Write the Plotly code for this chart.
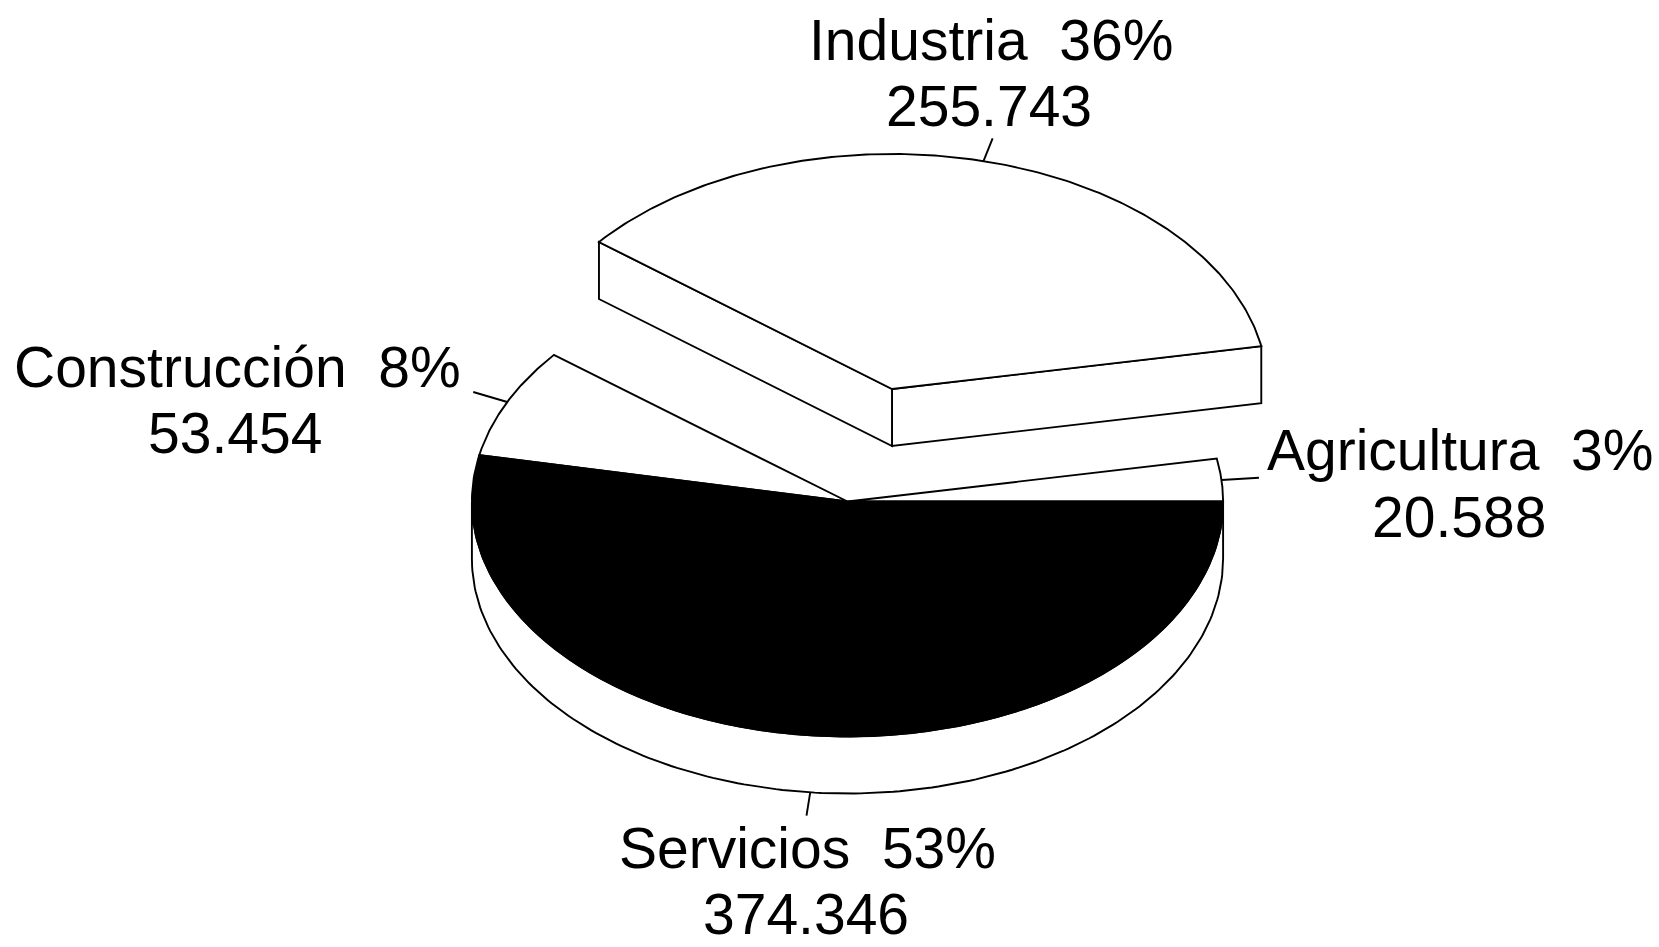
import numpy as np
import plotly.graph_objects as go

# --- data ---
categories = ["Agricultura", "Industria", "Construcción", "Servicios"]
values = [20588, 255743, 53454, 374346]
percent_labels = ["3%", "36%", "8%", "53%"]
value_labels = ["20.588", "255.743", "53.454", "374.346"]

# --- projection of the tilted pie ---
CX, CY = 847.5, 501.5
RX, RY = 375.6, 235.0
DEPTH = 57.0
EXPLODE = {"Industria": (44.5, -112.5)}
TOP_FILL = {"Agricultura": "white", "Industria": "white", "Construcción": "white", "Servicios": "black"}
LINE = dict(color="black", width=1.9)
FONT = dict(family="Liberation Sans", size=57, color="black")
LABEL_POS = {
    "Agricultura": (1460, 450, 1459, 517),
    "Industria": (991, 40, 989, 106),
    "Construcción": (237, 367, 235, 433),
    "Servicios": (807, 848, 806, 914),
}

total = sum(values)
edges = np.concatenate([[0.0], np.cumsum(values) / total * 360.0])


def rim(t_deg, cx, cy, factor=1.0):
    t = np.radians(t_deg)
    return cx + factor * RX * np.cos(t), cy - factor * RY * np.sin(t)


def poly(fig, xs, ys, fill="white"):
    fig.add_trace(go.Scatter(
        x=list(xs), y=list(ys), mode="lines", fill="toself", fillcolor=fill,
        line=LINE, hoverinfo="skip", showlegend=False))


fig = go.Figure()

# outer wall of the un-exploded part
ts = np.linspace(180, 360, 181)
wx, wy = rim(ts, CX, CY)
poly(fig, np.r_[wx, wx[::-1], wx[0]], np.r_[wy, wy[::-1] + DEPTH, wy[0]])

# exploded slice walls, then every top face
for i, name in enumerate(categories):
    dx, dy = EXPLODE.get(name, (0.0, 0.0))
    cx, cy = CX + dx, CY + dy
    if name in EXPLODE:
        for t in (edges[i], edges[i + 1]):
            px, py = rim(t, cx, cy)
            poly(fig, [cx, px, px, cx, cx], [cy, py, py + DEPTH, cy + DEPTH, cy])

for i, name in enumerate(categories):
    dx, dy = EXPLODE.get(name, (0.0, 0.0))
    cx, cy = CX + dx, CY + dy
    ts = np.linspace(edges[i], edges[i + 1], 200)
    ax, ay = rim(ts, cx, cy)
    poly(fig, np.r_[cx, ax, cx], np.r_[cy, ay, cy], TOP_FILL[name])

# leader lines at each slice's middle angle
for i, name in enumerate(categories):
    dx, dy = EXPLODE.get(name, (0.0, 0.0))
    mid = (edges[i] + edges[i + 1]) / 2
    wall = DEPTH if 180 < mid < 360 else 0.0
    x0, y0 = rim(mid, CX + dx, CY + dy + wall)
    x1, y1 = rim(mid, CX + dx, CY + dy + wall, 1.10)
    fig.add_trace(go.Scatter(x=[x0, x1], y=[y0, y1], mode="lines", line=LINE,
                             hoverinfo="skip", showlegend=False))

# labels
for name, pct, val in zip(categories, percent_labels, value_labels):
    x1, y1, x2, y2 = LABEL_POS[name]
    fig.add_annotation(x=x1, y=y1, text=f"{name}\u00a0\u00a0{pct}", showarrow=False,
                       xanchor="center", yanchor="middle", font=FONT)
    fig.add_annotation(x=x2, y=y2, text=val, showarrow=False,
                       xanchor="center", yanchor="middle", font=FONT)

fig.update_layout(
    width=1659, height=947, margin=dict(l=0, r=0, t=0, b=0),
    paper_bgcolor="white", plot_bgcolor="white", showlegend=False,
    xaxis=dict(range=[0, 1659], visible=False, fixedrange=True),
    yaxis=dict(range=[947, 0], visible=False, fixedrange=True),
)
fig.write_html("out.html", config={"displayModeBar": False},
               post_script="document.body.style.margin='0';document.body.style.overflow='hidden';")
